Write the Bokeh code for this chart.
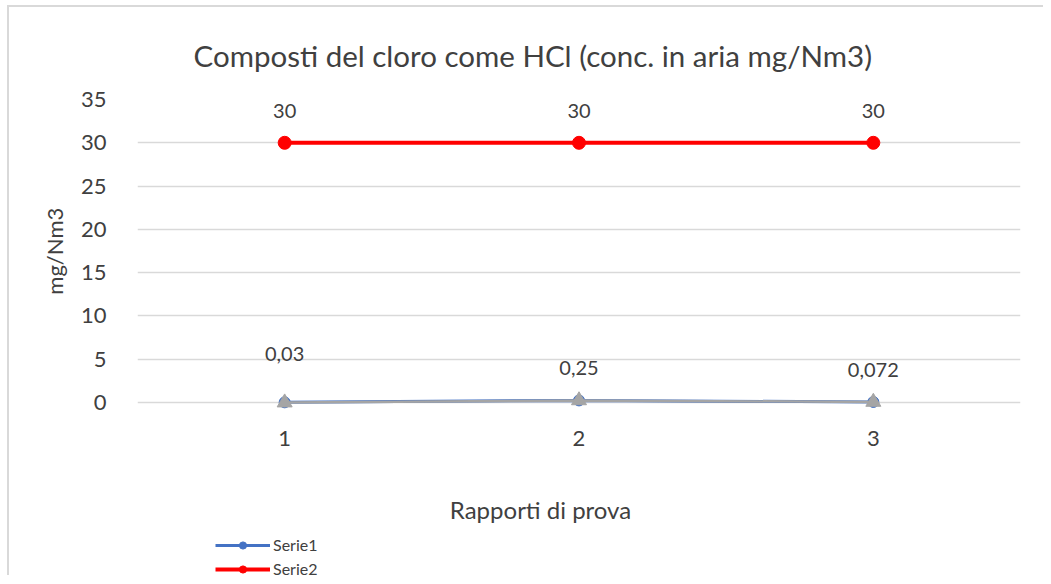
from bokeh.plotting import figure
from bokeh.models import Legend, LegendItem, FixedTicker, Range1d, ColumnDataSource, LabelSet, Label
from bokeh.core.properties import value
from bokeh.embed import file_html
from bokeh.resources import INLINE

categories = [1, 2, 3]
tick_labels = ["1", "2", "3"]
serie1 = [0.03, 0.25, 0.072]
serie2 = [30, 30, 30]
serie3 = [0.0, 0.25, 0.072]
serie1_labels = ["0,03", "0,25", "0,072"]
serie2_labels = ["30", "30", "30"]
title_text = "Composti del cloro come HCl (conc. in aria mg/Nm3)"
x_title = "Rapporti di prova"
y_title = "mg/Nm3"
y_ticks = [0, 5, 10, 15, 20, 25, 30, 35]

FONT = "Lato"
TXT = "#404040"

p = figure(width=1036, height=570, output_backend="svg", toolbar_location=None,
           x_range=Range1d(0.5, 3.5), y_range=Range1d(-20.2, 35),
           min_border_left=128, min_border_right=25, min_border_top=92, min_border_bottom=0)
p.outline_line_color = None
p.styles = {"margin-left": "7px", "margin-top": "5px",
            "border-left": "2px solid #d9d9d9", "border-top": "2px solid #d9d9d9"}

p.title.text = title_text
p.title.align = "left"
p.title.offset = 56
p.title.text_font = FONT
p.title.text_font_size = "29.5px"
p.title.text_font_style = "normal"
p.title.text_color = TXT
p.title.standoff = 54

# axes
p.yaxis.ticker = FixedTicker(ticks=y_ticks)
p.xaxis.ticker = FixedTicker(ticks=categories)
p.xaxis.major_label_overrides = {c: t for c, t in zip(categories, tick_labels)}
p.xaxis.fixed_location = 0
for ax in (p.xaxis[0], p.yaxis[0]):
    ax.axis_line_color = None
    ax.major_tick_line_color = None
    ax.minor_tick_line_color = None
    ax.major_label_text_font = FONT
    ax.major_label_text_font_size = "22px"
    ax.major_label_text_color = TXT
p.yaxis.major_label_standoff = 25
p.xaxis.major_label_standoff = 22
# leading no-break spaces lift the centred title up to the middle of the 0-35 scale
p.yaxis.axis_label = "\u00a0" * 31 + y_title
p.yaxis.axis_label_text_font = FONT
p.yaxis.axis_label_text_font_style = "normal"
p.yaxis.axis_label_text_font_size = "22px"
p.yaxis.axis_label_text_color = TXT
p.yaxis.axis_label_standoff = 10

# x axis title
p.add_layout(Label(x=403, y=68, x_units="screen", y_units="screen", text=x_title,
                   text_align="center", text_baseline="middle",
                   text_font=FONT, text_font_size="24px", text_color=TXT))

p.xgrid.grid_line_color = None
p.ygrid.grid_line_color = "#d9d9d9"
p.ygrid.grid_line_width = 1.5

src = ColumnDataSource(dict(x=categories, s1=serie1, s2=serie2, s3=serie3,
                            l1=serie1_labels, l2=serie2_labels,
                            off1=[41, 25, 25]))

r1l = p.line("x", "s1", source=src, line_color="#4472C4", line_width=3)
r1m = p.scatter("x", "s1", source=src, marker="circle", size=11, fill_color="#4472C4", line_color="#4472C4")
r2l = p.line("x", "s2", source=src, line_color="#FF0000", line_width=4)
r2m = p.scatter("x", "s2", source=src, marker="circle", size=13, fill_color="#FF0000", line_color="#FF0000")
r3l = p.line("x", "s3", source=src, line_color="#A5A5A5", line_width=2.5)
r3m = p.scatter("x", "s3", source=src, marker="triangle", size=15, fill_color="#A5A5A5", line_color="#A5A5A5")

lab2 = LabelSet(x="x", y="s2", text="l2", source=src, y_offset=25, text_align="center",
                text_font=value(FONT), text_font_size="20px", text_color=TXT)
lab1 = LabelSet(x="x", y="s1", text="l1", source=src, y_offset="off1", text_align="center",
                text_font=value(FONT), text_font_size="20px", text_color=TXT)
p.add_layout(lab2)
p.add_layout(lab1)

legend = Legend(items=[LegendItem(label="Serie1", renderers=[r1l, r1m]),
                       LegendItem(label="Serie2", renderers=[r2l, r2m])],
                location=(78, -1), orientation="vertical",
                label_text_font=FONT, label_text_font_size="16px", label_text_color=TXT,
                border_line_color=None, background_fill_alpha=0,
                glyph_width=55, glyph_height=18, spacing=5, label_standoff=3,
                padding=0, margin=0)
p.add_layout(legend, "center")

open("out.html", "w").write(file_html(p, INLINE))
